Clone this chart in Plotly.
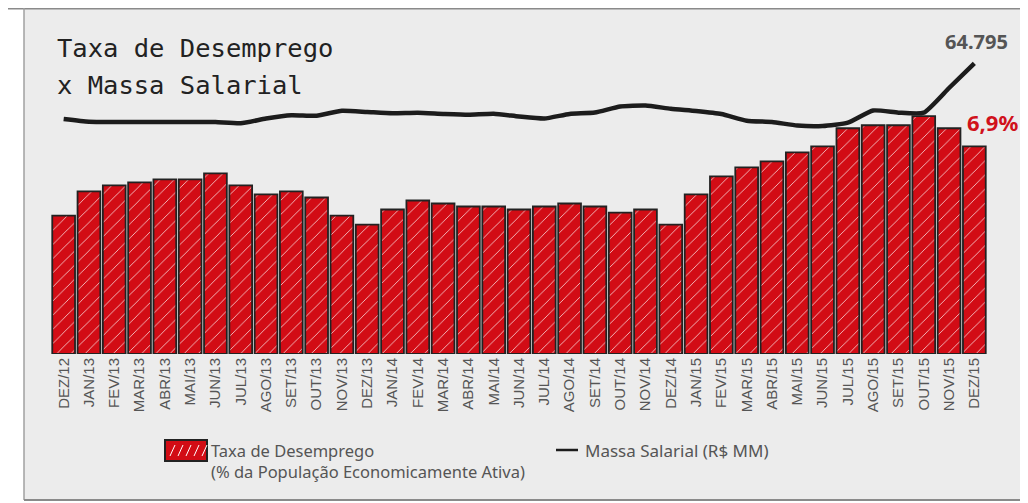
import plotly.graph_objects as go

meses = ["DEZ/12", "JAN/13", "FEV/13", "MAR/13", "ABR/13", "MAI/13", "JUN/13", "JUL/13",
         "AGO/13", "SET/13", "OUT/13", "NOV/13", "DEZ/13", "JAN/14", "FEV/14", "MAR/14",
         "ABR/14", "MAI/14", "JUN/14", "JUL/14", "AGO/14", "SET/14", "OUT/14", "NOV/14",
         "DEZ/14", "JAN/15", "FEV/15", "MAR/15", "ABR/15", "MAI/15", "JUN/15", "JUL/15",
         "AGO/15", "SET/15", "OUT/15", "NOV/15", "DEZ/15"]

taxa_desemprego = [4.6, 5.4, 5.6, 5.7, 5.8, 5.8, 6.0, 5.6, 5.3, 5.4, 5.2, 4.6, 4.3,
                   4.8, 5.1, 5.0, 4.9, 4.9, 4.8, 4.9, 5.0, 4.9, 4.7, 4.8, 4.3,
                   5.3, 5.9, 6.2, 6.4, 6.7, 6.9, 7.5, 7.6, 7.6, 7.9, 7.5, 6.9]

massa_salarial = [52380, 51780, 51710, 51700, 51720, 51710, 51700, 51420, 52490, 53230,
                  53120, 54210, 53940, 53650, 53760, 53500, 53320, 53560, 52940, 52490,
                  53500, 53830, 55170, 55390, 54660, 54170, 53500, 52000, 51710, 50930,
                  50820, 51560, 54280, 53790, 53790, 59290, 64795]

# page body has an 8px margin: the figure is placed at (8, 8) in the window
OFF = 8
W, H = 1028 - OFF, 503 - OFF
PL, PR, PT, PB = 51, 987, 20, 354  # plot area in window pixels
L, R, T, B = PL - OFF, W - (PR - OFF), PT - OFF, H - (PB - OFF)
PW, PH = PR - PL, PB - PT


def px(x):
    return (x - PL) / PW


def py(y):
    return (PB - y) / PH


RED = "#d20c15"

fig = go.Figure()
fig.add_trace(go.Bar(
    x=meses, y=taxa_desemprego, name="Taxa de Desemprego",
    marker=dict(color=RED, line=dict(color="#222222", width=1.8),
                pattern=dict(shape="/", fgcolor="white", bgcolor=RED, fgopacity=0.85,
                             size=10, solidity=0.08, fillmode="replace")),
    showlegend=False, hoverinfo="x+y",
))
fig.add_trace(go.Scatter(
    x=meses, y=massa_salarial, yaxis="y2", mode="lines", name="Massa Salarial (R$ MM)",
    line=dict(color="#1c1c1c", width=4.5, shape="spline", smoothing=0.5),
    showlegend=False,
))

shapes = [
    dict(type="rect", xref="paper", yref="paper", x0=px(24), x1=px(1035), y0=py(500), y1=py(8),
         fillcolor="#ececec", line=dict(width=0), layer="below"),
    dict(type="line", xref="paper", yref="paper", x0=px(0), x1=px(1035), y0=py(8.7), y1=py(8.7),
         line=dict(color="#8a8a8a", width=1.5)),
    dict(type="line", xref="paper", yref="paper", x0=px(24), x1=px(24), y0=py(0), y1=py(500),
         line=dict(color="#a0a0a0", width=1.5)),
    dict(type="line", xref="paper", yref="paper", x0=px(24), x1=px(1035), y0=py(500), y1=py(500),
         line=dict(color="#8a8a8a", width=2)),
    # legend symbols
    dict(type="rect", xref="paper", yref="paper", x0=px(165), x1=px(207), y0=py(461), y1=py(440),
         fillcolor=RED, line=dict(color="#222222", width=2)),
    dict(type="line", xref="paper", yref="paper", x0=px(556), x1=px(578), y0=py(450), y1=py(450),
         line=dict(color="#1c1c1c", width=2.5)),
]
for i in range(5):
    x0 = 170 + i * 8
    shapes.append(dict(type="line", xref="paper", yref="paper", x0=px(x0), x1=px(x0 + 5),
                       y0=py(456), y1=py(445), line=dict(color="white", width=1)))

annotations = [
    dict(text="Taxa de Desemprego", xref="paper", yref="paper", x=px(55), y=py(48),
         xanchor="left", yanchor="middle", showarrow=False,
         font=dict(family="DejaVu Sans Mono", size=25.5, color="#222222")),
    dict(text="x Massa Salarial", xref="paper", yref="paper", x=px(55), y=py(85),
         xanchor="left", yanchor="middle", showarrow=False,
         font=dict(family="DejaVu Sans Mono", size=25.5, color="#222222")),
    dict(text="<b>64.795</b>", x=meses[-1], y=massa_salarial[-1], yref="y2",
         xanchor="center", yanchor="bottom", yshift=6, xshift=2, showarrow=False,
         font=dict(family="Noto Sans", size=20, color="#555555")),
    dict(text="<b>6,9%</b>", x=meses[-1], y=taxa_desemprego[-1], yref="y",
         xanchor="left", yanchor="bottom", yshift=7, xshift=-9, showarrow=False,
         font=dict(family="Noto Sans", size=22, color="#d0111b")),
    dict(text="Taxa de Desemprego", xref="paper", yref="paper", x=px(209), y=py(450),
         xanchor="left", yanchor="middle", showarrow=False,
         font=dict(family="Noto Sans", size=16.5, color="#555555")),
    dict(text="(% da População Economicamente Ativa)", xref="paper", yref="paper", x=px(209), y=py(471),
         xanchor="left", yanchor="middle", showarrow=False,
         font=dict(family="Noto Sans", size=16.5, color="#555555")),
    dict(text="Massa Salarial (R$ MM)", xref="paper", yref="paper", x=px(583), y=py(450),
         xanchor="left", yanchor="middle", showarrow=False,
         font=dict(family="Noto Sans", size=17, color="#555555")),
]

fig.update_layout(
    width=W, height=H,
    margin=dict(l=L, r=R, t=T, b=B),
    paper_bgcolor="white", plot_bgcolor="rgba(0,0,0,0)",
    bargap=0.1,
    shapes=shapes, annotations=annotations,
    xaxis=dict(type="category", tickangle=-90, showgrid=False, showline=False, zeroline=False,
               ticks="", tickfont=dict(family="Liberation Sans", size=15, color="#555555"),
               range=[-0.5, 36.5], fixedrange=True),
    yaxis=dict(range=[0, PH / 30.1], visible=False, showgrid=False, zeroline=False),
    yaxis2=dict(range=[0, 64795 * PH / (354 - 63.3)], overlaying="y", visible=False,
                showgrid=False, zeroline=False),
    showlegend=False,
)

fig.write_html("out.html")
